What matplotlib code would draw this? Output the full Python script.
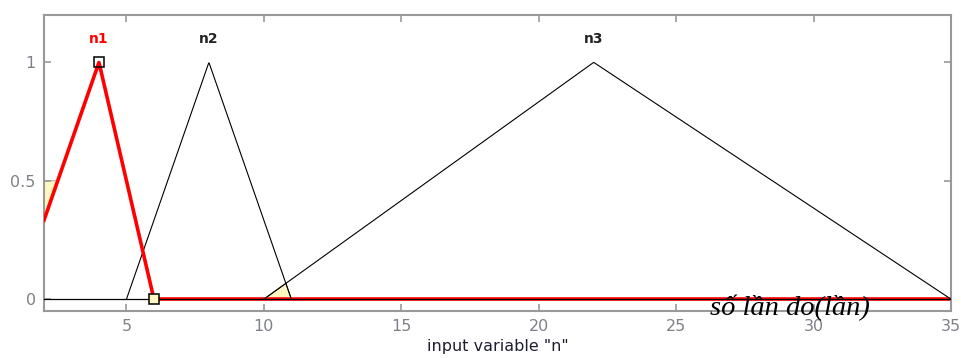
import numpy as np
import matplotlib.pyplot as plt

# membership function parameters (trimf a, b, c)
mf_names = ["n1", "n2", "n3"]
mf_params = [[1, 4, 6], [5, 8, 11], [10, 22, 35]]
x_ticks = [5, 10, 15, 20, 25, 30, 35]
y_ticks = [0, 0.5, 1]
y_tick_labels = ["0", "0.5", "1"]
x_range = [2, 35]


def trimf(x, a, b, c):
    return np.maximum(np.minimum((x - a) / (b - a), (c - x) / (c - b)), 0)


fig = plt.figure(figsize=(9.62, 3.58), dpi=100)
ax = fig.add_axes([44 / 962, 47 / 358, 907 / 962, 296 / 358])

x = np.linspace(x_range[0], x_range[1], 2000)
a1, b1, c1 = mf_params[0]

# baseline at zero (selected mf drawn red where it is zero)
ax.plot([c1, x_range[1]], [0, 0], color="red", lw=2.6, zorder=2, solid_capstyle="butt")
ax.plot(x_range, [0, 0], color="black", lw=0.9, zorder=3)

# yellow overlap patches
a2, b2, c2 = mf_params[1]
a3, b3, c3 = mf_params[2]
xi = (c2 * (b3 - a3) + a3 * (c2 - b2)) / ((b3 - a3) + (c2 - b2))
yi = (xi - a3) / (b3 - a3)
ax.fill([a3, xi, c2], [0, yi, 0], color="#fff7c0", ec="black", lw=0.6, zorder=1)
y_left = trimf(np.array([x_range[0]]), a1, b1, c1)[0]
x_half = a1 + 0.5 * (b1 - a1)
ax.fill([x_range[0], x_half, x_range[0]], [0.5, 0.5, y_left],
        color="#fff7c0", ec="#999999", lw=0.6, zorder=1)

for name, (a, b, c) in zip(mf_names, mf_params):
    y = trimf(x, a, b, c)
    mask = (x >= max(a, x_range[0])) & (x <= c)
    if name == "n1":
        ax.plot(x[mask], y[mask], color="red", lw=2.6, zorder=4)
        ax.plot([b], [1], marker="s", ms=7.5, mfc="none", mec="black", mew=1.1, zorder=5)
        ax.plot([c], [0], marker="s", ms=7.5, mfc="#fff7c0", mec="black", mew=1.1, zorder=5)
        ax.text(b, 1.1, name, color="red", fontsize=10, fontweight="bold",
                ha="center", va="center")
    else:
        ax.plot(x[mask], y[mask], color="black", lw=0.8, zorder=3)
        ax.text(b, 1.1, name, color="#222222", fontsize=10, fontweight="bold",
                ha="center", va="center")

ax.set_xlim(x_range)
ax.set_ylim(-0.05, 1.2)
ax.set_xticks(x_ticks)
ax.set_yticks(y_ticks)
ax.set_yticklabels(y_tick_labels)
ax.tick_params(direction="in", length=5, color="#999999", labelcolor="#7f8088",
               labelsize=11.5, top=True, right=True, width=1.2, pad=6)
for sp in ax.spines.values():
    sp.set_color("#999999")
    sp.set_linewidth(1.5)

ax.set_xlabel('input variable "n"', fontsize=11.5, color="#1e1e32", labelpad=3)

fig.text(790 / 962, 1 - 315 / 358, "số lần đo(lần)", fontsize=20.5, style="italic",
         family=["Liberation Serif", "DejaVu Serif"], ha="center", va="baseline",
         color="black")

fig.savefig("out.png", dpi=100)
